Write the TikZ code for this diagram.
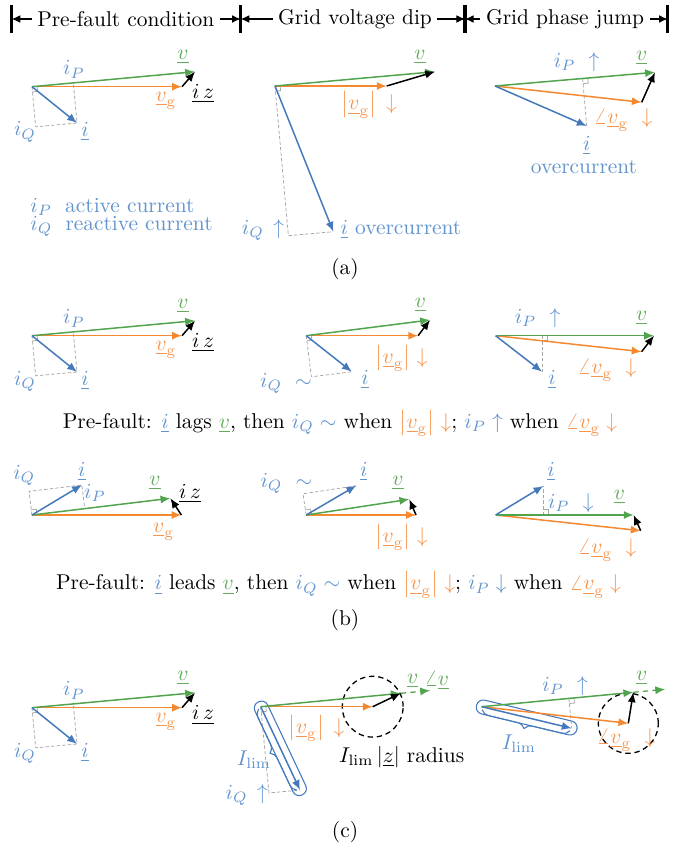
\documentclass[tikz,border=0pt]{standalone}
\usetikzlibrary{calc,arrows.meta,decorations.pathreplacing}
\definecolor{cblue}{RGB}{68,122,188}
\definecolor{corange}{RGB}{246,136,48}
\definecolor{cgreen}{RGB}{82,163,78}
\definecolor{lblue}{RGB}{98,148,206}
\definecolor{lorange}{RGB}{246,150,80}
\definecolor{lgreen}{RGB}{98,172,92}
\colorlet{cgray}{black!35}
\tikzset{
  vecarrow/.style={-{Latex[length=4.6pt,width=3.8pt]}, line width=0.7pt},
  vgarrow/.style={vecarrow, corange},
  varrow/.style={vecarrow, cgreen},
  iarrow/.style={vecarrow, cblue},
  zarrow/.style={vecarrow, black},
  projline/.style={cgray, line width=0.35pt, dash pattern=on 1.6pt off 1pt},
  rightang/.style={cgray, line width=0.35pt},
  lb/.style={inner sep=0.5pt},
  bl/.style={lb, text=lblue},
  ol/.style={lb, text=lorange},
  gl/.style={lb, text=lgreen},
  kl/.style={lb, text=black},
  hdtext/.style={inner sep=2.4pt},
  hdarrow/.style={-{Latex[length=4pt,width=3.6pt]}, line width=0.5pt},
  hdbar/.style={line width=1.6pt},
  circ/.style={black, line width=0.6pt, dash pattern=on 2.5pt off 1.8pt},
  capsule/.style={cblue, line width=0.5pt, rounded corners=3.2pt},
  extline/.style={varrow, line width=0.6pt, dash pattern=on 2.5pt off 2pt},
}
\newcommand\ramark[3]{%
  \coordinate (ra1) at ($(#1)!2.4pt!(#2)$);
  \coordinate (ra2) at ($(#1)!2.4pt!(#3)$);
  \draw[rightang] (ra1) -- ($(ra1)+(ra2)-(#1)$) -- (ra2);}
\newcommand\capsulebrace[3]{%
  \coordinate (#3a) at ($(#1)!-2.5pt!(#2)$);
  \coordinate (#3b) at ($(#2)!-2.5pt!(#1)$);
  \coordinate (#3a1) at ($(#3a)!3.3pt!-90:(#3b)$);
  \coordinate (#3a2) at ($(#3a)!3.3pt!90:(#3b)$);
  \coordinate (#3b1) at ($(#3b)!3.3pt!90:(#3a)$);
  \coordinate (#3b2) at ($(#3b)!3.3pt!-90:(#3a)$);
  \coordinate (#3c1) at ($(#3b)!1.3pt!90:(#3a)$);
  \coordinate (#3c2) at ($(#3a)!1.3pt!-90:(#3b)$);
  \draw[capsule] (#3a1) -- (#3b1) -- (#3b2) -- (#3a2) -- cycle;
  \draw[cblue, line width=0.5pt, decorate, decoration={brace, amplitude=4pt}]
    ($(#3c1)!3pt!(#3c2)$) -- ($(#3c2)!3pt!(#3c1)$);}
\newcommand\leftpanel[2]{%
\begin{scope}[shift={(0,#2)}]
  \coordinate (#1O) at (32,86.7);
  \coordinate (#1G) at (182,86.7);
  \coordinate (#1V) at (195,71.7);
  \coordinate (#1I) at (77,123);
  \coordinate (#1P) at ($(#1O)!(#1I)!(#1V)$);
  \coordinate (#1Q) at ($(#1O)+(#1I)-(#1P)$);
  \draw[projline] (#1O) -- (#1Q) -- (#1I) -- (#1P);
  \ramark{#1O}{#1V}{#1Q}
  \draw[vgarrow] (#1O) -- (#1G);
  \draw[varrow] (#1O) -- (#1V);
  \draw[iarrow] (#1O) -- (#1I);
  \draw[zarrow] (#1G) -- (#1V);
  \node[gl] (#1lv) at (183,57) {$\underline{v}$};
  \node[bl] (#1lp) at (74,69.5) {$i_P$};
  \node[kl] (#1lz) at (203,94) {$\underline{i\,z}$};
  \node[ol] (#1lg) at (166,101) {$\underline{v}_{\mathrm{g}}$};
  \node[bl] (#1lq) at (25,132) {$i_Q$};
  \node[bl] (#1li) at (85,132) {$\underline{i}$};
\end{scope}}
\begin{document}
\begin{tikzpicture}[x=0.467pt,y=-0.467pt]
\useasboundingbox (0,0) rectangle (694,848);
% ---------- header ----------
\coordinate (bar1) at (11.7,19);
\coordinate (bar2) at (240.7,19);
\coordinate (bar3) at (465,19);
\coordinate (bar4) at (667.7,19);
\foreach \b in {bar1,bar2,bar3,bar4}
  \draw[hdbar] ($(\b)+(0,-14)$) -- ($(\b)+(0,14)$);
\node[hdtext] (h1) at (125.8,19) {Pre-fault condition};
\node[hdtext] (h2) at (355,19) {Grid voltage dip};
\node[hdtext] (h3) at (565,19) {Grid phase jump};
\draw[hdarrow] (h1.west) -- (bar1);
\draw[hdarrow] (h1.east) -- (bar2);
\draw[hdarrow] (h2.west) -- (bar2);
\draw[hdarrow] (h2.east) -- (bar3);
\draw[hdarrow] (h3.west) -- (bar3);
\draw[hdarrow] (h3.east) -- (bar4);
% ---------- (a) ----------
\leftpanel{aL}{0}
\node[bl, anchor=west] (legP) at (29,206.7) {$i_P$\; active current};
\node[bl, anchor=west] (legQ) at (29,226.7) {$i_Q$\; reactive current};
% middle
\coordinate (aMO) at (275,86);
\coordinate (aMG) at (386.7,86);
\coordinate (aMV) at (435,71.7);
\coordinate (aMI) at (333.3,231.7);
\coordinate (aMP) at ($(aMO)!(aMI)!(aMV)$);
\coordinate (aMQ) at ($(aMO)+(aMI)-(aMP)$);
\draw[projline] (aMO) -- (aMQ) -- (aMI);
\ramark{aMO}{aMV}{aMQ}
\draw[vgarrow] (aMO) -- (aMG);
\draw[varrow] (aMO) -- (aMV);
\draw[iarrow] (aMO) -- (aMI);
\draw[zarrow] (aMG) -- (aMV);
\node[gl] (aMlv) at (420,57) {$\underline{v}$};
\node[ol] (aMlg) at (369,105) {$\left|\underline{v}_{\mathrm{g}}\right|\,\downarrow$};
\node[bl] (aMlq) at (263,230) {$i_Q\,\uparrow$};
\node[bl] (aMli) at (401,230) {$\underline{i}$ overcurrent};
% right
\coordinate (aRO) at (495,86);
\coordinate (aRV) at (655,72.3);
\coordinate (aRG) at (641.7,102.3);
\coordinate (aRI) at (586.7,126);
\coordinate (aRP) at ($(aRO)!(aRI)!(aRV)$);
\draw[projline] (aRP) -- (aRI);
\ramark{aRP}{aRV}{aRI}
\draw[vgarrow] (aRO) -- (aRG);
\draw[varrow] (aRO) -- (aRV);
\draw[iarrow] (aRO) -- (aRI);
\draw[zarrow] (aRG) -- (aRV);
\node[bl] (aRlp) at (576.7,61.7) {$i_P\ \uparrow$};
\node[gl] (aRlv) at (641.7,58.3) {$\underline{v}$};
\node[ol] (aRlg) at (623,120) {$\angle\underline{v}_{\mathrm{g}}\ \downarrow$};
\node[bl] (aRli) at (586.7,146) {$\underline{i}$};
\node[bl] (aRlo) at (584,166.7) {overcurrent};
\node (capa) at (345,269) {(a)};
% ---------- (b) row 1 ----------
\leftpanel{bL}{249}
\coordinate (bMO) at (306.2,335.7);
\coordinate (bMG) at (418.1,335.7);
\coordinate (bMV) at (430,320);
\coordinate (bMI) at (351.8,371.7);
\coordinate (bMP) at ($(bMO)!(bMI)!(bMV)$);
\coordinate (bMQ) at ($(bMO)+(bMI)-(bMP)$);
\draw[projline] (bMO) -- (bMQ) -- (bMI);
\ramark{bMO}{bMV}{bMQ}
\draw[vgarrow] (bMO) -- (bMG);
\draw[varrow] (bMO) -- (bMV);
\draw[iarrow] (bMO) -- (bMI);
\draw[zarrow] (bMG) -- (bMV);
\node[gl] (bMlv) at (420.4,305) {$\underline{v}$};
\node[ol] (bMlg) at (401.5,358.3) {$\left|\underline{v}_{\mathrm{g}}\right|\downarrow$};
\node[bl] (bMlq) at (286,383.3) {$i_Q\ \sim$};
\node[bl] (bMli) at (365,379.3) {$\underline{i}$};
\coordinate (bRO) at (495.6,335.7);
\coordinate (bRV) at (654,335.7);
\coordinate (bRG) at (641.6,351.7);
\coordinate (bRI) at (542,371.7);
\coordinate (bRP) at ($(bRO)!(bRI)!(bRV)$);
\draw[projline] (bRP) -- (bRI);
\ramark{bRP}{bRV}{bRI}
\draw[vgarrow] (bRO) -- (bRG);
\draw[varrow] (bRO) -- (bRV);
\draw[iarrow] (bRO) -- (bRI);
\draw[zarrow] (bRG) -- (bRV);
\node[bl] (bRlp) at (537.5,318.3) {$i_P\ \uparrow$};
\node[gl] (bRlv) at (641.6,318.3) {$\underline{v}$};
\node[ol] (bRlg) at (607,370) {$\angle\underline{v}_{\mathrm{g}}\ \downarrow$};
\node[bl] (bRli) at (552,379.3) {$\underline{i}$};
\node (capb1) at (340,423.3) {Pre-fault: \textcolor{lblue}{$\underline{i}$} lags \textcolor{lgreen}{$\underline{v}$}, then \textcolor{lblue}{$i_Q\sim$}\ when \textcolor{lorange}{$\left|\underline{v}_{\mathrm{g}}\right|\downarrow$}; \textcolor{lblue}{$i_P\uparrow$}\ when \textcolor{lorange}{$\angle\underline{v}_{\mathrm{g}}\downarrow$}};
% ---------- (b) row 2 ----------
\coordinate (cLO) at (31.9,515);
\coordinate (cLG) at (181.4,515);
\coordinate (cLV) at (170.4,498.3);
\coordinate (cLI) at (81.9,485);
\coordinate (cLP) at ($(cLO)!(cLI)!(cLV)$);
\coordinate (cLQ) at ($(cLO)+(cLI)-(cLP)$);
\draw[projline] (cLO) -- (cLQ) -- (cLI) -- (cLP);
\ramark{cLO}{cLV}{cLQ}
\draw[vgarrow] (cLO) -- (cLG);
\draw[varrow] (cLO) -- (cLV);
\draw[iarrow] (cLO) -- (cLI);
\draw[zarrow] (cLG) -- (cLV);
\node[bl] (cLlq) at (24.3,475) {$i_Q$};
\node[bl] (cLli) at (81.9,471.7) {$\underline{i}$};
\node[bl] (cLlp) at (95,493.3) {$i_P$};
\node[gl] (cLlv) at (155,483.3) {$\underline{v}$};
\node[kl] (cLlz) at (190,493.3) {$\underline{i\,z}$};
\node[ol] (cLlg) at (163.7,531.7) {$\underline{v}_{\mathrm{g}}$};
\coordinate (cMO) at (306.2,515);
\coordinate (cMG) at (416,515);
\coordinate (cMV) at (409.3,499.3);
\coordinate (cMI) at (356.2,485.7);
\coordinate (cMP) at ($(cMO)!(cMI)!(cMV)$);
\coordinate (cMQ) at ($(cMO)+(cMI)-(cMP)$);
\draw[projline] (cMO) -- (cMQ) -- (cMI);
\ramark{cMO}{cMV}{cMQ}
\draw[vgarrow] (cMO) -- (cMG);
\draw[varrow] (cMO) -- (cMV);
\draw[iarrow] (cMO) -- (cMI);
\draw[zarrow] (cMG) -- (cMV);
\node[bl] (cMlq) at (286.4,483.3) {$i_Q\ \sim$};
\node[bl] (cMli) at (363.7,471.7) {$\underline{i}$};
\node[gl] (cMlv) at (398,483.3) {$\underline{v}$};
\node[ol] (cMlg) at (401.5,537.3) {$\left|\underline{v}_{\mathrm{g}}\right|\downarrow$};
\coordinate (cRO) at (495.6,515);
\coordinate (cRV) at (633.6,515);
\coordinate (cRG) at (640.7,530.7);
\coordinate (cRI) at (543.4,486);
\coordinate (cRP) at ($(cRO)!(cRI)!(cRV)$);
\draw[projline] (cRP) -- (cRI);
\ramark{cRP}{cRV}{cRI}
\draw[vgarrow] (cRO) -- (cRG);
\draw[varrow] (cRO) -- (cRV);
\draw[iarrow] (cRO) -- (cRI);
\draw[zarrow] (cRG) -- (cRV);
\node[bl] (cRli) at (551,471.7) {$\underline{i}$};
\node[bl] (cRlp) at (570.8,503.3) {$i_P\ \downarrow$};
\node[gl] (cRlv) at (619.5,496.7) {$\underline{v}$};
\node[ol] (cRlg) at (607,550) {$\angle\underline{v}_{\mathrm{g}}\ \downarrow$};
\node (capb2) at (338.5,585) {Pre-fault: \textcolor{lblue}{$\underline{i}$} leads \textcolor{lgreen}{$\underline{v}$}, then \textcolor{lblue}{$i_Q\sim$}\ when \textcolor{lorange}{$\left|\underline{v}_{\mathrm{g}}\right|\downarrow$}; \textcolor{lblue}{$i_P\downarrow$}\ when \textcolor{lorange}{$\angle\underline{v}_{\mathrm{g}}\downarrow$}};
\node (capb) at (345,620) {(b)};
% ---------- (c) ----------
\leftpanel{dL}{621}
\coordinate (dMO) at (260.7,706.7);
\coordinate (dMG) at (372.7,706.7);
\coordinate (dMV) at (400.7,693.3);
\coordinate (dME) at ($(dMO)!1.21!(dMV)$);
\coordinate (dMI) at (300,790);
\coordinate (dMP) at ($(dMO)!(dMI)!(dMV)$);
\coordinate (dMQ) at ($(dMO)+(dMI)-(dMP)$);
\draw[projline] (dMO) -- (dMQ) -- (dMI);
\ramark{dMO}{dMV}{dMQ}
\capsulebrace{dMO}{dMI}{dMk}
\draw[circ] (dMG) circle[radius=14.2pt];
\draw[vgarrow] (dMO) -- (dMG);
\draw[varrow] (dMO) -- (dMV);
\draw[extline] (dMV) -- (dME);
\draw[iarrow] (dMO) -- (dMI);
\draw[zarrow] (dMG) -- (dMV);
\node[gl] (dMlv) at (412.7,680.7) {$\underline{v}$};
\node[gl] (dMla) at (436.7,680.7) {$\angle\underline{v}$};
\node[ol] (dMlg) at (316.7,728.3) {$\left|\underline{v}_{\mathrm{g}}\right|\,\downarrow$};
\node[kl] (dMlr) at (401.7,756.7) {$I_{\mathrm{lim}}\,|\underline{z}|$\ radius};
\node[bl] (dMll) at (254,760) {$I_{\mathrm{lim}}$};
\node[bl] (dMlq) at (246.7,795) {$i_Q\,\uparrow$};
\coordinate (dRO) at (481.7,706.7);
\coordinate (dRV) at (633.3,692.3);
\coordinate (dRE) at ($(dRO)!1.21!(dRV)$);
\coordinate (dRG) at (628.3,723.3);
\coordinate (dRI) at (571.7,728.3);
\coordinate (dRP) at ($(dRO)!(dRI)!(dRV)$);
\draw[projline] (dRP) -- (dRI);
\ramark{dRP}{dRV}{dRI}
\capsulebrace{dRO}{dRI}{dRk}
\draw[circ] (dRG) circle[radius=14pt];
\draw[vgarrow] (dRO) -- (dRG);
\draw[varrow] (dRO) -- (dRV);
\draw[extline] (dRV) -- (dRE);
\draw[iarrow] (dRO) -- (dRI);
\draw[zarrow] (dRG) -- (dRV);
\node[bl] (dRlp) at (565,686) {$i_P\ \uparrow$};
\node[gl] (dRlv) at (641.7,678.3) {$\underline{v}$};
\node[ol] (dRlg) at (626,740) {$\angle\underline{v}_{\mathrm{g}}\ \downarrow$};
\node[bl] (dRll) at (519,744) {$I_{\mathrm{lim}}$};
\node (capc) at (345,832) {(c)};
\end{tikzpicture}
\end{document}
